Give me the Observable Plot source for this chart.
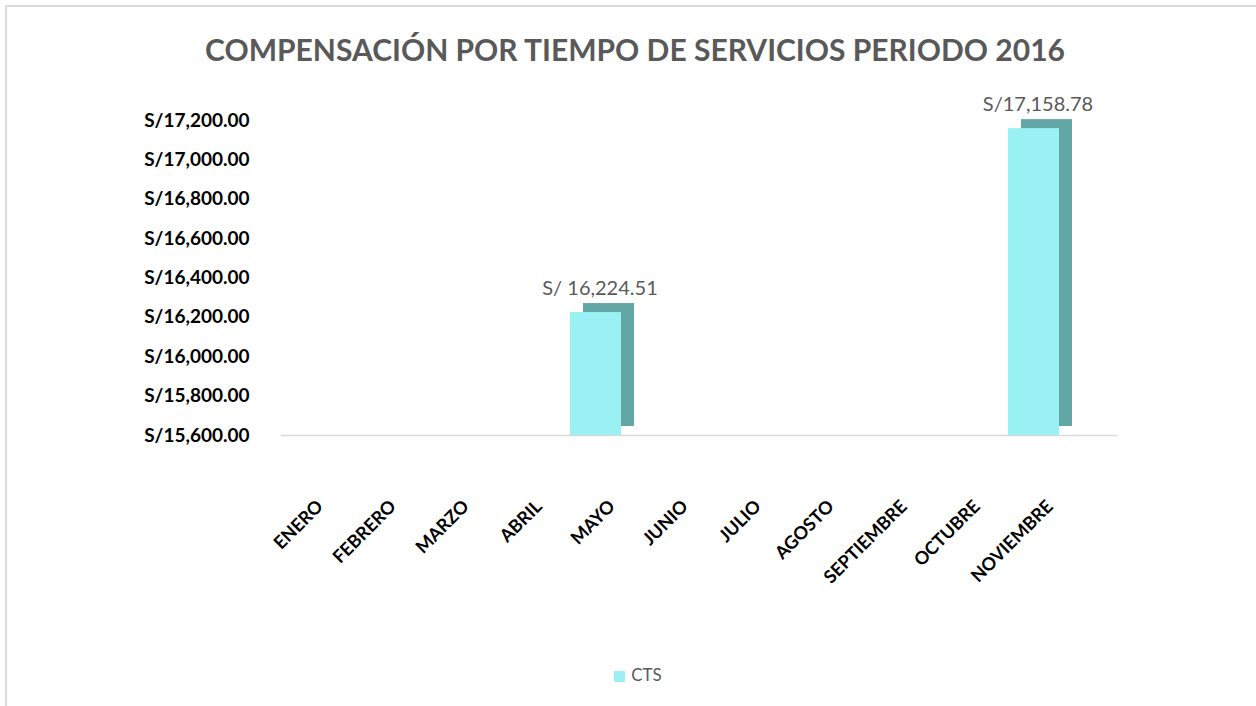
<!DOCTYPE html>
<html>
<head>
<meta charset="utf-8">
<script src="https://cdn.jsdelivr.net/npm/d3@7"></script>
<script src="https://cdn.jsdelivr.net/npm/@observablehq/plot@0.6"></script>
<style>
  html, body { margin: 0; padding: 0; background: #fff; }
  #frame {
    position: absolute; left: 5px; top: 5px; width: 1260px; height: 710px;
    border-top: 2px solid #dcdcdc; border-left: 2px solid #dcdcdc;
    box-sizing: border-box;
  }
  #wrap { position: absolute; left: 0; top: 0; width: 1256px; height: 706px; }
  #title {
    height: 100px; line-height: 98px; margin: 0; text-align: center;
    font-family: Lato, "Open Sans", sans-serif; font-weight: 700; font-size: 30px;
    color: #595959; padding-left: 14px; letter-spacing: 0px;
  }
  #legend {
    text-align: center; font-family: Lato, "Open Sans", sans-serif; font-size: 17px; color: #595959;
    margin-top: 4px; padding-left: 20px;
  }
  #legend span.sw { display: inline-block; width: 11px; height: 11px; background: #99F1F3; margin-right: 6px; vertical-align: -1px; }
  svg { display: block; overflow: visible; }
</style>
</head>
<body>
<div id="frame"></div>
<div id="wrap">
  <div id="title">COMPENSACIÓN POR TIEMPO DE SERVICIOS PERIODO 2016</div>
  <div id="chart"></div>
  <div id="legend"><span class="sw"></span>CTS</div>
</div>
<script>
const months = ["ENERO","FEBRERO","MARZO","ABRIL","MAYO","JUNIO","JULIO","AGOSTO","SEPTIEMBRE","OCTUBRE","NOVIEMBRE"];
const barMonths = ["MAYO", "NOVIEMBRE"];
const barValues = [16224.51, 17158.78];
const barLabels = ["S/ 16,224.51", "S/17,158.78"];
const yTicks = [15600, 15800, 16000, 16200, 16400, 16600, 16800, 17000, 17200];
const seriesName = "CTS";

const data = barMonths.map((m, i) => ({month: m, value: barValues[i], label: barLabels[i]}));
const base = 15600;
const fmt = v => "S/" + d3.format(",.2f")(v);
const font = "Lato, 'Open Sans', sans-serif";

const plot = Plot.plot({
  width: 1256,
  height: 560,
  marginLeft: 251,
  marginRight: 169,
  marginTop: 20,
  marginBottom: 225,
  style: {background: "transparent", overflow: "visible"},
  x: {domain: months, padding: 0.3, label: null},
  y: {domain: [15600, 17200], label: null},
  marks: [
    Plot.ruleY([base], {stroke: "#d9d9d9", strokeWidth: 1.5, dx: 30}),
    // dark extrusion (side + top)
    Plot.barY(data, {x: "month", y1: base, y2: "value", fill: "#62a7a6", dx: 13, dy: -9}),
    // front face
    Plot.barY(data, {x: "month", y1: base, y2: "value", fill: "#99F1F3"}),
    Plot.text(data, {x: "month", y: "value", text: "label", dy: -24, dx: 4, fill: "#595959",
      fontSize: 20, fontFamily: font}),
    Plot.axisY(yTicks, {tickSize: 0, tickPadding: 2, tickFormat: fmt, fontSize: 19, fontWeight: "bold",
      fontFamily: font, fill: "#000", label: null}),
    Plot.axisX(months, {tickSize: 0, tickPadding: 68, tickRotate: -45, fontSize: 18, fontWeight: "bold",
      fontFamily: font, fill: "#000", label: null, dx: 16})
  ]
});
document.getElementById("chart").appendChild(plot);
</script>
</body>
</html>
